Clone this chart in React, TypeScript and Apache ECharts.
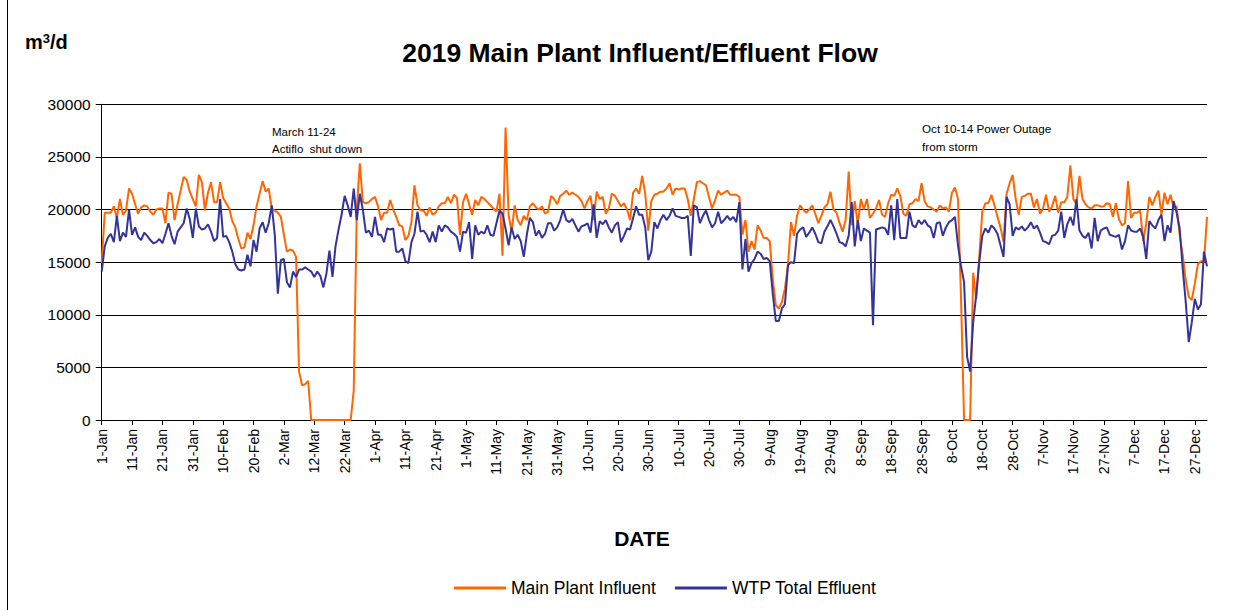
import React, { useEffect, useRef } from "react";
import * as echarts from "echarts";

const MONTHS = ["Jan", "Feb", "Mar", "Apr", "May", "Jun", "Jul", "Aug", "Sep", "Oct", "Nov", "Dec"];
const MONTH_DAYS = [31, 28, 31, 30, 31, 30, 31, 31, 30, 31, 30, 31];
const DATES: string[] = MONTHS.flatMap((m, i) =>
  Array.from({ length: MONTH_DAYS[i] }, (_, d) => `${d + 1}-${m}`)
);

const TITLE = "2019 Main Plant Influent/Effluent Flow";
const X_NAME = "DATE";
const SERIES_NAMES = ["Main Plant Influent", "WTP Total Effluent"];

// Main Plant Influent (m3/d), by month
const infJan = [14900, 19700, 19700, 19700, 20300, 19200, 21000, 19500, 19900, 22000, 21500, 20500, 19600, 20200, 20400, 20300, 19800, 19500, 20000, 20100, 20100, 18700, 21600, 21500, 19000, 20500, 21800, 23100, 22800, 21700, 21000];
const infFeb = [20300, 23300, 22600, 19900, 21600, 22600, 20700, 20700, 22600, 21100, 20600, 20100, 18900, 18300, 17200, 16300, 16400, 17800, 17200, 18500, 20300, 21500, 22700, 21700, 22000, 20100, 19900, 19700];
const infMar = [19300, 17600, 16000, 16200, 16100, 15500, 4600, 3300, 3400, 3700, 0, 0, 0, 0, 0, 0, 0, 0, 0, 0, 0, 0, 0, 0, 2800, 20000, 24400, 20700, 20600, 20700, 21000];
const infApr = [21200, 20300, 19000, 19700, 19700, 20900, 20000, 19300, 18500, 18400, 17100, 17500, 18800, 22300, 20400, 19900, 19900, 19400, 20200, 19500, 19700, 20300, 20600, 20600, 21200, 20600, 21400, 21100, 17600, 20700];
const infMay = [21500, 20500, 19500, 20900, 20400, 21200, 21000, 20700, 20400, 20100, 19800, 21500, 15600, 27800, 19500, 17900, 20400, 19000, 18500, 19400, 19000, 20300, 20600, 20200, 20000, 20300, 19600, 19800, 21300, 21000, 20500];
const infJun = [21300, 21500, 21800, 21400, 21600, 21400, 21200, 20800, 20100, 20800, 21300, 19000, 21700, 21000, 21200, 19600, 20100, 21500, 21300, 20800, 20300, 20600, 20000, 19000, 21600, 22000, 21500, 23200, 21500, 18000];
const infJul = [20800, 21400, 21500, 21700, 21700, 22000, 22500, 21400, 22000, 21900, 22000, 22000, 21000, 19400, 21000, 22600, 22700, 22500, 22300, 21200, 20100, 20900, 21800, 21400, 21600, 21800, 21400, 21400, 21400, 21200, 17600];
const infAug = [19000, 16000, 17000, 16200, 18500, 18000, 17300, 17300, 17000, 13400, 10900, 10600, 11200, 12500, 14700, 18800, 17500, 19400, 20400, 20000, 19700, 20000, 20400, 19600, 18700, 19400, 20200, 20500, 21700, 20000, 19700];
const infSep = [18700, 17900, 19000, 23600, 18500, 20800, 18600, 21000, 20000, 21000, 19200, 19600, 20100, 20900, 19500, 19300, 20600, 21400, 21300, 22000, 21300, 19600, 19400, 20500, 20600, 21000, 20800, 22500, 20800, 20300];
const infOct = [20200, 20000, 19800, 20400, 20100, 20200, 19800, 21600, 22100, 21000, 11500, 0, 0, 0, 14000, 11500, 15500, 19800, 20600, 20600, 21400, 20400, 19300, 18300, 16900, 21500, 22500, 23300, 21000, 19500, 21200];
const infNov = [21300, 21500, 21500, 20200, 21000, 19600, 20100, 21400, 19800, 20300, 21300, 19700, 20700, 20700, 21200, 24200, 21000, 20500, 23200, 21000, 20500, 20200, 20100, 20400, 20400, 20300, 20300, 20600, 20500, 19300];
const infDec = [20600, 19100, 18500, 18700, 22700, 19200, 19700, 19700, 19900, 17000, 18700, 21200, 20400, 21200, 21800, 19500, 21600, 20500, 21400, 20200, 20300, 17600, 15700, 13300, 11700, 11400, 13000, 14800, 15100, 15000, 19300];

// WTP Total Effluent (m3/d), by month
const effJan = [14100, 16500, 17300, 17700, 16900, 19400, 17000, 17800, 17400, 20000, 17600, 18300, 17400, 17100, 17800, 17500, 17100, 16800, 16900, 17200, 16800, 17700, 18700, 17500, 16700, 17900, 18300, 18700, 20100, 19100, 17300];
const effFeb = [20100, 18400, 18100, 18200, 18600, 17900, 17000, 17300, 21000, 17400, 17500, 16900, 16000, 14800, 14300, 14200, 14300, 15700, 14600, 17100, 16000, 18200, 18800, 17800, 18700, 20400, 17600, 12000];
const effMar = [15200, 15300, 13100, 12600, 14100, 13600, 14300, 14300, 14500, 14300, 14100, 13600, 14100, 13700, 12600, 13900, 16100, 13600, 16500, 18100, 19500, 21300, 20400, 19300, 22000, 19000, 21500, 20000, 17800, 18000, 17400];
const effApr = [19300, 17600, 17600, 16900, 18200, 18100, 18200, 16000, 16000, 16300, 15100, 14900, 16900, 17700, 19800, 17900, 18000, 17600, 16900, 17900, 16900, 18500, 17900, 18500, 18300, 17900, 17700, 17400, 16000, 17900];
const effMay = [17800, 18800, 15300, 18500, 17600, 17900, 17700, 18500, 17600, 17500, 18700, 19900, 19600, 18200, 16600, 18300, 17200, 17600, 17000, 15500, 17600, 19200, 18800, 17500, 18000, 17300, 17700, 18700, 18700, 18000, 18300];
const effJun = [19000, 20000, 19000, 18800, 19100, 18500, 17900, 18400, 18500, 18700, 17800, 20500, 17300, 18900, 18600, 19000, 18300, 17800, 18500, 18800, 16900, 17500, 18200, 18100, 19200, 20300, 19500, 19500, 18300, 15200];
const effJul = [16000, 18800, 18200, 19000, 19500, 19000, 19400, 20100, 19400, 19300, 19200, 19200, 19400, 15600, 20400, 20200, 18700, 19400, 19900, 19000, 18300, 18700, 19800, 18700, 19000, 19400, 19000, 19300, 18800, 20700, 14300];
const effAug = [17200, 14100, 14900, 15300, 16000, 15800, 15300, 15400, 15100, 12000, 9400, 9400, 10600, 11000, 14700, 15000, 14900, 17700, 18100, 18300, 17400, 17800, 18300, 17700, 16900, 16800, 17900, 18400, 19000, 18400, 17700];
const effSep = [16900, 16800, 16500, 17500, 20700, 16500, 19000, 17000, 18200, 18000, 17800, 9000, 18100, 18200, 18300, 18200, 17600, 20400, 17100, 21000, 17300, 17300, 17300, 19800, 18500, 18300, 19000, 18600, 19000, 18500];
const effOct = [18300, 17300, 18700, 18800, 17500, 18300, 18800, 19000, 19300, 16600, 14600, 13100, 6000, 4600, 9300, 11900, 15000, 17500, 18200, 17800, 18500, 18200, 17700, 16600, 15500, 21200, 20500, 17500, 18300, 18100, 18400];
const effNov = [18000, 18300, 18800, 18200, 18500, 17800, 17000, 16900, 16700, 17500, 17600, 18000, 19800, 17300, 18600, 19300, 18500, 21000, 18000, 17500, 17300, 17800, 16300, 19200, 17000, 18000, 18200, 18300, 17600, 17500];
const effDec = [17400, 17600, 16200, 17000, 18500, 18000, 17900, 17900, 18200, 17400, 15300, 18900, 18500, 18200, 19000, 19500, 17000, 18500, 17800, 20800, 19700, 18200, 14400, 11200, 7400, 9300, 11500, 10500, 11000, 16000, 14600];

const influent = [...infJan, ...infFeb, ...infMar, ...infApr, ...infMay, ...infJun, ...infJul, ...infAug, ...infSep, ...infOct, ...infNov, ...infDec];
const effluent = [...effJan, ...effFeb, ...effMar, ...effApr, ...effMay, ...effJun, ...effJul, ...effAug, ...effSep, ...effOct, ...effNov, ...effDec];

const FONT = "'Liberation Sans', Arial, sans-serif";
const ORANGE = "#FF6600";
const BLUE = "#333399";
const every10 = (i: number) => i % 10 === 0;

export default function App() {
  const ref = useRef<HTMLDivElement>(null);
  useEffect(() => {
    if (!ref.current) return;
    const chart = echarts.init(ref.current, undefined, { renderer: "svg" });
    chart.setOption({
      animation: false,
      backgroundColor: "#ffffff",
      grid: { left: 101.7, right: 44, top: 104.3, bottom: 190, containLabel: false },
      legend: {
        left: 449,
        top: 574,
        icon: "rect",
        itemWidth: 52,
        itemHeight: 3,
        itemGap: 19,
        data: SERIES_NAMES,
        textStyle: { fontFamily: FONT, fontSize: 17.5, color: "#000" },
      },
      xAxis: {
        type: "category",
        data: DATES,
        boundaryGap: false,
        axisLine: { show: true, lineStyle: { color: "#000", width: 1 } },
        axisTick: { show: true, interval: every10, length: 5, lineStyle: { color: "#000" } },
        axisLabel: { interval: every10, rotate: 90, fontSize: 14, fontFamily: FONT, color: "#000", margin: 9 },
        splitLine: { show: false },
      },
      yAxis: {
        type: "value",
        min: 0,
        max: 30000,
        interval: 5000,
        axisLine: { show: true, lineStyle: { color: "#000", width: 1 } },
        axisTick: { show: true, length: 6, lineStyle: { color: "#000" } },
        axisLabel: { fontSize: 15.5, fontFamily: FONT, color: "#000", margin: 11, formatter: (v: number) => String(v) },
        splitLine: { show: true, lineStyle: { color: "#000", width: 1 } },
      },
      series: [
        {
          name: SERIES_NAMES[0],
          type: "line",
          data: influent,
          symbol: "none",
          color: ORANGE,
          lineStyle: { color: ORANGE, width: 2 },
        },
        {
          name: SERIES_NAMES[1],
          type: "line",
          data: effluent,
          symbol: "none",
          color: BLUE,
          lineStyle: { color: BLUE, width: 2 },
        },
      ],
      graphic: [
        { type: "line", shape: { x1: 7.5, y1: 0, x2: 7.5, y2: 610 }, style: { stroke: "#000", lineWidth: 1 } },
        {
          type: "text", x: 640, y: 53,
          style: { text: TITLE, fill: "#000", fontSize: 26.5, fontWeight: "bold", fontFamily: FONT, align: "center", verticalAlign: "middle" },
        },
        {
          type: "text", x: 25, y: 42,
          style: {
            text: "{a|m}{s|3}{a|/d}",
            rich: {
              a: { fontSize: 20, fontWeight: "bold", fontFamily: FONT, fill: "#000", verticalAlign: "bottom" },
              s: { fontSize: 13, fontWeight: "bold", fontFamily: FONT, fill: "#000", verticalAlign: "top" },
            },
            align: "left",
            verticalAlign: "middle",
          },
        },
        {
          type: "text", x: 642, y: 538,
          style: { text: X_NAME, fill: "#000", fontSize: 21, fontWeight: "bold", fontFamily: FONT, align: "center", verticalAlign: "middle" },
        },
        {
          type: "text", x: 272, y: 132,
          style: { text: "March 11-24", fill: "#000", fontSize: 11.5, fontFamily: FONT, align: "left", verticalAlign: "middle" },
        },
        {
          type: "text", x: 272, y: 149,
          style: { text: "Actiflo  shut down", fill: "#000", fontSize: 11.5, fontFamily: FONT, align: "left", verticalAlign: "middle" },
        },
        {
          type: "text", x: 922, y: 128,
          style: { text: "Oct 10-14 Power Outage", fill: "#000", fontSize: 11.7, fontFamily: FONT, align: "left", verticalAlign: "middle" },
        },
        {
          type: "text", x: 922, y: 146,
          style: { text: "from storm", fill: "#000", fontSize: 11.7, fontFamily: FONT, align: "left", verticalAlign: "middle" },
        },
      ],
    });
    return () => chart.dispose();
  }, []);
  return <div ref={ref} style={{ position: "absolute", left: 0, top: 0, width: 1251, height: 610 }} />;
}
